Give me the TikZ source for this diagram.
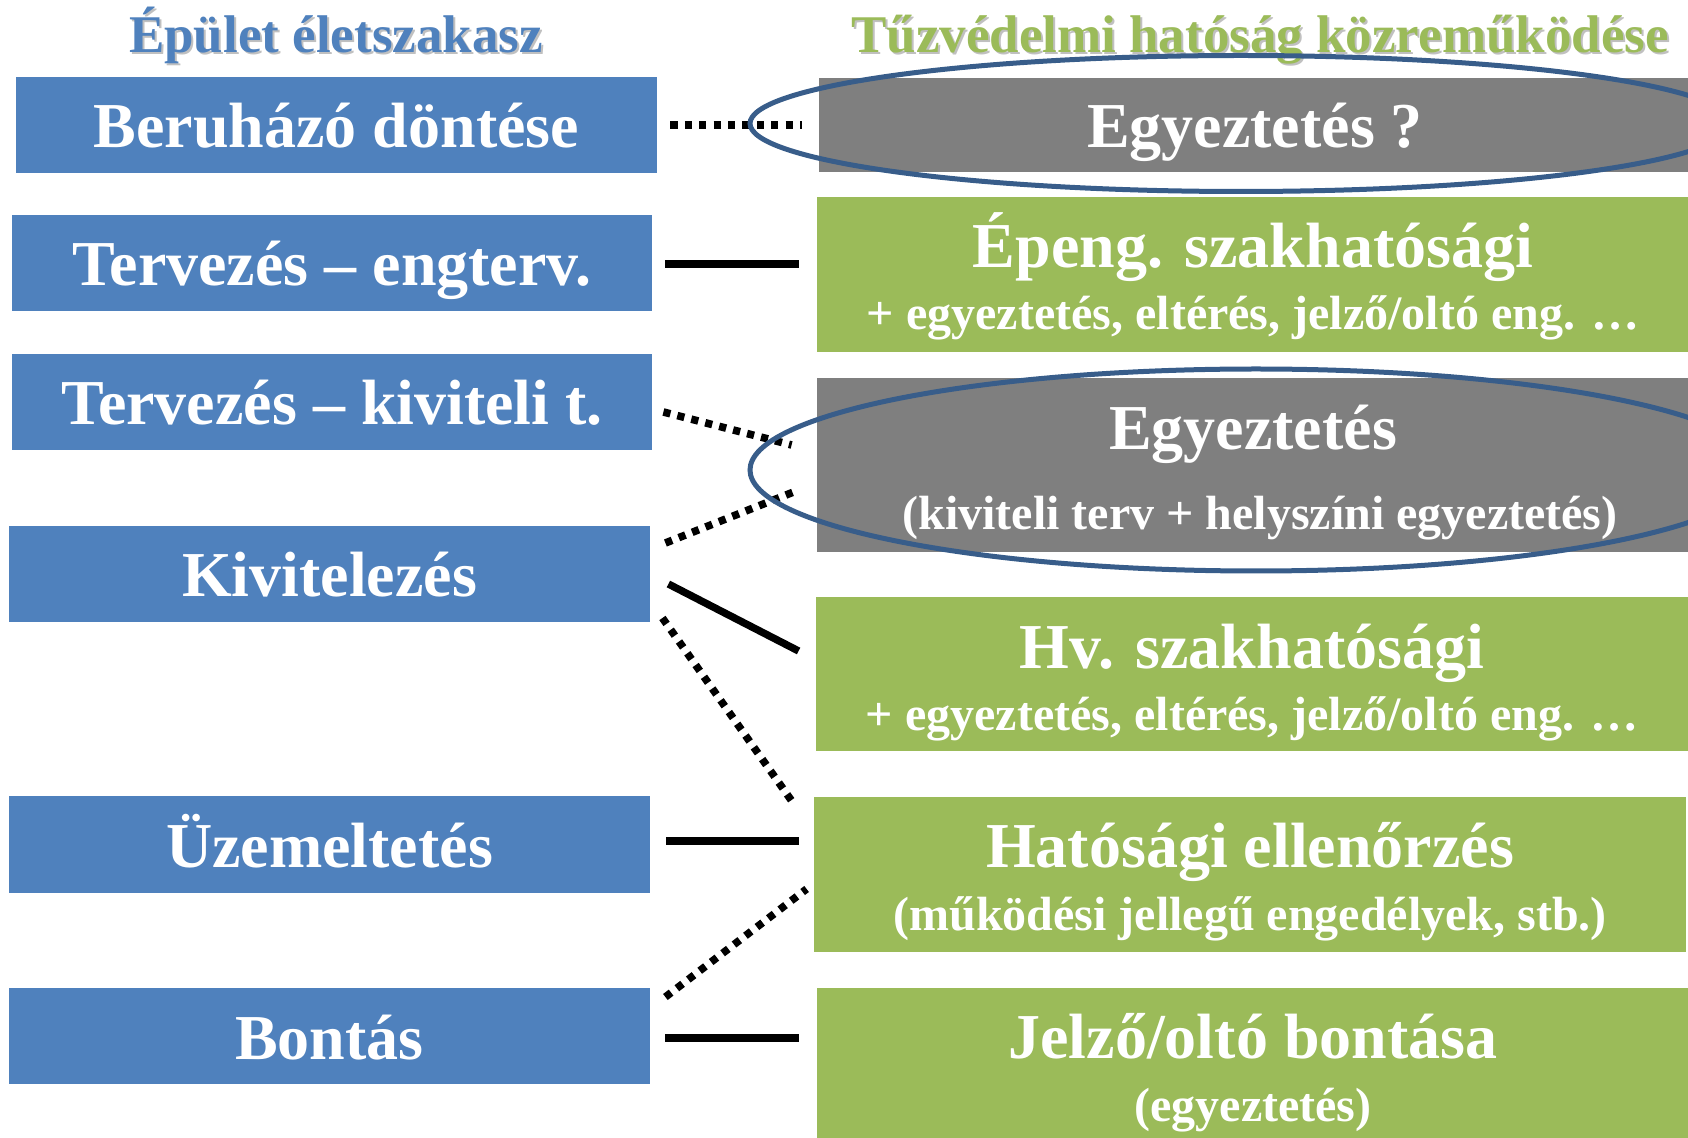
\documentclass[tikz,border=0pt]{standalone}
\usepackage{fontspec}
\setmainfont{Liberation Serif}
\usepackage{tikz}

\definecolor{phaseblue}{RGB}{79,129,189}
\definecolor{authgreen}{RGB}{155,187,89}
\definecolor{consultgray}{RGB}{127,127,127}
\definecolor{ringblue}{RGB}{56,93,138}

\newcommand{\phasefont}{\fontsize{32}{38}\selectfont\bfseries}
\newcommand{\notefont}{\fontsize{24}{29}\selectfont\bfseries}
\newcommand{\headfont}{\fontsize{26.5}{32}\selectfont\bfseries}

\begin{document}
\begin{tikzpicture}
		[x=0.5pt,y=-0.5pt,
		heading/.style={font=\headfont,anchor=base,inner sep=0pt},
		phase/.style={fill=phaseblue,text=white,font=\phasefont,inner sep=0pt,
			minimum width=320.5pt,minimum height=48pt,text height=28pt,text depth=5pt},
		stage/.style={inner sep=0pt,minimum width=436pt},
		mainline/.style={text=white,font=\phasefont,anchor=base,inner sep=0pt},
		noteline/.style={text=white,font=\notefont,anchor=base,inner sep=0pt},
		solidline/.style={line width=3.7pt},
		dotline/.style={line width=3.8pt,dash pattern=on 3.6pt off 3.6pt},
		ring/.style={draw=ringblue,line width=2.5pt}]
		\useasboundingbox (0,0) rectangle (1688,1138);
		% headings
		\node[heading,text=black!45,opacity=0.55] (life-sh) at (338,55) {Épület életszakasz};
		\node[heading,text=phaseblue] (life) at (336,53) {Épület életszakasz};
		\node[heading,text=black!45,opacity=0.55] (auth-sh) at (1262,55) {Tűzvédelmi hatóság közreműködése};
		\node[heading,text=authgreen] (auth) at (1260,53) {Tűzvédelmi hatóság közreműködése};
		% life cycle phases
		\node[phase] (beru) at (336.5,125) {Beruházó döntése};
		\node[phase,minimum width=320pt] (teng) at (332,263) {Tervezés – engterv.};
		\node[phase,minimum width=320pt] (tkiv) at (332,402) {Tervezés – kiviteli t.};
		\node[phase] (kivit) at (329.5,574) {Kivitelezés};
		\node[phase] (uzem) at (329.5,844.5) {Üzemeltetés};
		\node[phase] (bont) at (329.5,1036) {Bontás};
		% authority steps
		\node[stage,fill=consultgray,minimum height=47pt,text=white,font=\phasefont,
			text height=28pt,text depth=5pt] (egyq) at (1255,125) {Egyeztetés ?};
		\node[stage,fill=authgreen,minimum height=77.5pt] (epeng) at (1253,274.5) {};
		\node[mainline] (epeng-t) at ([yshift=-35.5pt]epeng.north) {Épeng. szakhatósági};
		\node[noteline] (epeng-n) at ([yshift=-66.5pt]epeng.north) {+ egyeztetés, eltérés, jelző/oltó eng. …};
		\node[stage,fill=consultgray,minimum height=87pt] (egyk) at (1253,465) {};
		\node[mainline] (egyk-t) at ([yshift=-36pt]egyk.north) {Egyeztetés};
		\node[noteline] (egyk-n) at ([xshift=3.5pt,yshift=-76pt]egyk.north) {(kiviteli terv + helyszíni egyeztetés)};
		\node[stage,fill=authgreen,minimum height=77pt] (hv) at (1252,674) {};
		\node[mainline] (hv-t) at ([yshift=-36pt]hv.north) {Hv. szakhatósági};
		\node[noteline] (hv-n) at ([yshift=-67pt]hv.north) {+ egyeztetés, eltérés, jelző/oltó eng. …};
		\node[stage,fill=authgreen,minimum height=77.5pt] (hatell) at (1250,874.5) {};
		\node[mainline] (hatell-t) at ([yshift=-35.5pt]hatell.north) {Hatósági ellenőrzés};
		\node[noteline] (hatell-n) at ([yshift=-67pt]hatell.north) {(működési jellegű engedélyek, stb.)};
		\node[stage,fill=authgreen,minimum height=75pt] (jelzo) at (1253,1063) {};
		\node[mainline] (jelzo-t) at ([yshift=-35.25pt]jelzo.north) {Jelző/oltó bontása};
		\node[noteline] (jelzo-n) at ([yshift=-67pt]jelzo.north) {(egyeztetés)};
		% links
		\draw[dotline] ([xshift=6.5pt]beru.east) -- ([xshift=-8.5pt]egyq.west);
		\draw[solidline] ([xshift=6.5pt,yshift=-0.5pt]teng.east) -- ([xshift=-9pt,yshift=5.25pt]epeng.west);
		\draw[dotline] ([xshift=5.5pt,yshift=-5pt]tkiv.east) -- ([xshift=-12.5pt,yshift=10pt]egyk.west);
		\draw[dotline] ([xshift=7.5pt,yshift=15.5pt]kivit.east) -- ([xshift=-9pt,yshift=-12.5pt]egyk.west);
		\draw[solidline] ([xshift=9pt,yshift=-5pt]kivit.east) -- ([xshift=-8.5pt,yshift=11.5pt]hv.west);
		\draw[dotline] ([xshift=6pt,yshift=-22pt]kivit.east) -- ([xshift=-9.5pt,yshift=34.75pt]hatell.west);
		\draw[solidline] ([xshift=8pt,yshift=1.75pt]uzem.east) -- ([xshift=-7.5pt,yshift=16.75pt]hatell.west);
		\draw[dotline] ([xshift=7.5pt,yshift=19.5pt]bont.east) -- ([xshift=-3.5pt,yshift=-7.25pt]hatell.west);
		\draw[solidline] ([xshift=7.5pt,yshift=-1pt]bont.east) -- ([xshift=-9pt,yshift=12.5pt]jelzo.west);
		% highlighted consultations
		\draw[ring] (1241,123.5) ellipse [x radius=245.5pt,y radius=34pt];
		\draw[ring] (1256,470) ellipse [x radius=253pt,y radius=50.5pt];
\end{tikzpicture}
\end{document}
